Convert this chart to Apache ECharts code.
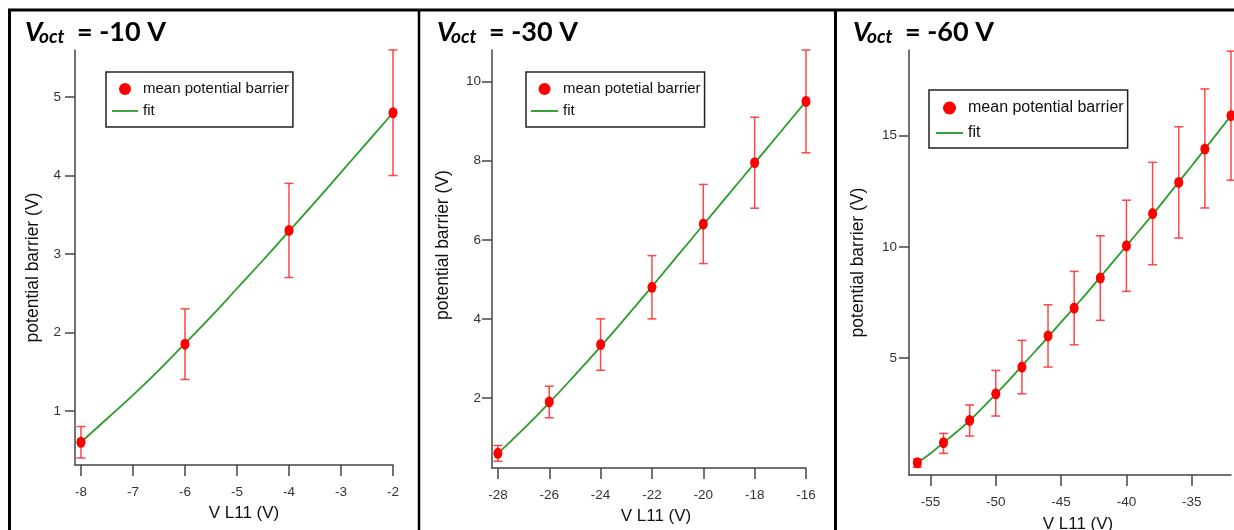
<!DOCTYPE html>
<html>
<head>
<meta charset="utf-8">
<script src="https://cdn.jsdelivr.net/npm/echarts@6/dist/echarts.min.js"></script>
<style>
  html, body { margin: 0; padding: 0; background: #fff; }
  #chart { width: 1234px; height: 530px; }
</style>
</head>
<body>
<div id="chart"></div>
<script>
// ---- Panel 1: V_oct = -10 V ----
const vL11_p1 = [-8, -6, -4, -2];
const barrier_p1 = [0.6, 1.85, 3.3, 4.8];
const barrierLow_p1 = [0.4, 1.4, 2.7, 4.0];
const barrierHigh_p1 = [0.8, 2.3, 3.9, 5.6];
const fitX_p1 = [-8, -7.5, -7, -6.5, -6, -5.5, -5, -4.5, -4, -3.5, -3, -2.5, -2];
const fitY_p1 = [0.6, 0.9, 1.2, 1.52, 1.86, 2.2, 2.56, 2.92, 3.29, 3.66, 4.04, 4.42, 4.8];
const xTicks_p1 = [-8, -7, -6, -5, -4, -3, -2];
const yTicks_p1 = [1, 2, 3, 4, 5];

// ---- Panel 2: V_oct = -30 V ----
const vL11_p2 = [-28, -26, -24, -22, -20, -18, -16];
const barrier_p2 = [0.6, 1.9, 3.35, 4.8, 6.4, 7.95, 9.5];
const barrierLow_p2 = [0.4, 1.5, 2.7, 4.0, 5.4, 6.8, 8.2];
const barrierHigh_p2 = [0.8, 2.3, 4.0, 5.6, 7.4, 9.1, 10.8];
const fitX_p2 = [-28, -27, -26, -25, -24, -23, -22, -21, -20, -19, -18, -17, -16];
const fitY_p2 = [0.6, 1.22, 1.88, 2.58, 3.3, 4.05, 4.82, 5.6, 6.38, 7.16, 7.94, 8.72, 9.5];
const xTicks_p2 = [-28, -26, -24, -22, -20, -18, -16];
const yTicks_p2 = [2, 4, 6, 8, 10];

// ---- Panel 3: V_oct = -60 V ----
const vL11_p3 = [-56, -54, -52, -50, -48, -46, -44, -42, -40, -38, -36, -34, -32];
const barrier_p3 = [0.3, 1.2, 2.2, 3.4, 4.6, 6.0, 7.25, 8.6, 10.05, 11.5, 12.9, 14.4, 15.9];
const barrierLow_p3 = [0.1, 0.72, 1.5, 2.4, 3.4, 4.6, 5.6, 6.7, 8.0, 9.2, 10.4, 11.75, 13.0];
const barrierHigh_p3 = [0.46, 1.62, 2.9, 4.45, 5.8, 7.4, 8.9, 10.5, 12.1, 13.8, 15.4, 17.1, 18.8];
const fitX_p3 = [-56, -55, -54, -53, -52, -51, -50, -49, -48, -47, -46, -45, -44, -43, -42, -41, -40, -39, -38, -37, -36, -35, -34, -33, -32];
const fitY_p3 = [0.3, 0.72, 1.2, 1.68, 2.2, 2.78, 3.38, 4.0, 4.65, 5.3, 5.95, 6.62, 7.28, 7.95, 8.65, 9.35, 10.05, 10.75, 11.45, 12.18, 12.92, 13.65, 14.4, 15.15, 15.9];
const xTicks_p3 = [-55, -50, -45, -40, -35];
const yTicks_p3 = [5, 10, 15];

const titles = ['-10', '-30', '-60'];
const pointNames = ['mean potential barrier', 'mean potetial barrier', 'mean potential barrier'];
const xTitle = 'V L11 (V)';
const yTitle = 'potential barrier (V)';

const FONT = '"Liberation Sans", Arial, Helvetica, sans-serif';
const TITLE_FONT = 'Lato, "Open Sans", "DejaVu Sans", sans-serif';
const AXIS_COLOR = '#444';
const POINT_COLOR = '#ff0000';
const ERR_COLOR = 'rgba(255, 45, 45, 0.88)';
const FIT_COLOR = '#2a9d2a';
// legend key for the fit: a plain horizontal stroke
const LINE_ICON = 'path://M0,0L26,0L26,1.8L0,1.8Z';

const zip2 = (a, b) => a.map((v, i) => [v, b[i]]);
const zip3 = (a, b, c) => a.map((v, i) => [v, b[i], c[i]]);

const panels = [
  {
    x: vL11_p1, y: barrier_p1, lo: barrierLow_p1, hi: barrierHigh_p1, fx: fitX_p1, fy: fitY_p1,
    xTicks: xTicks_p1, yTicks: yTicks_p1,
    grid: { left: 75, top: 50, width: 318, height: 415 },
    xRange: [-8.115, -2], yRange: [0.31, 5.6],
    yLabelMargin: 14, yNameGap: 33, yNamePad: [0, 20, 0, 0], xNameGap: 40, xNamePad: [0, 0, 0, 20],
    legend: { left: 106, top: 72, padding: [9.5, 4, 8.5, 6], itemWidth: 26, itemHeight: 12, itemGap: 7, itemTextGap: 7, fontSize: 15 },
    titleX: 25
  },
  {
    x: vL11_p2, y: barrier_p2, lo: barrierLow_p2, hi: barrierHigh_p2, fx: fitX_p2, fy: fitY_p2,
    xTicks: xTicks_p2, yTicks: yTicks_p2,
    grid: { left: 492, top: 50, width: 314, height: 418 },
    xRange: [-28.23, -16], yRange: [0.23, 10.8],
    yLabelMargin: 11, yNameGap: 40, yNamePad: [0, 0, 0, 28], xNameGap: 40, xNamePad: [0, 0, 0, 14],
    legend: { left: 526, top: 72, padding: [9.5, 4, 8.5, 5], itemWidth: 27, itemHeight: 12, itemGap: 7, itemTextGap: 6, fontSize: 15 },
    titleX: 437
  },
  {
    x: vL11_p3, y: barrier_p3, lo: barrierLow_p3, hi: barrierHigh_p3, fx: fitX_p3, fy: fitY_p3,
    xTicks: xTicks_p3, yTicks: yTicks_p3,
    grid: { left: 909, top: 50, width: 322, height: 425 },
    xRange: [-56.64, -32], yRange: [-0.25, 18.85],
    yLabelMargin: 12, yNameGap: 42, yNamePad: [0, 0, 0, 0], xNameGap: 41, xNamePad: [0, 0, 0, 16],
    legend: { left: 929, top: 90, padding: [10, 4, 7, 7], itemWidth: 27, itemHeight: 13, itemGap: 9, itemTextGap: 7, fontSize: 16 },
    titleX: 853
  }
];

// vertical error bar with caps, positioned through the axis scales
function renderErrorBar(params, api) {
  const xv = api.value(0);
  const top = api.coord([xv, api.value(2)]);
  const bot = api.coord([xv, api.value(1)]);
  const hw = 4.5;
  const style = { stroke: ERR_COLOR, lineWidth: 1.5, fill: null };
  return {
    type: 'group',
    children: [
      { type: 'line', shape: { x1: top[0], y1: top[1], x2: bot[0], y2: bot[1] }, style: style },
      { type: 'line', shape: { x1: top[0] - hw, y1: top[1], x2: top[0] + hw, y2: top[1] }, style: style },
      { type: 'line', shape: { x1: bot[0] - hw, y1: bot[1], x2: bot[0] + hw, y2: bot[1] }, style: style }
    ]
  };
}

const grids = [], xAxes = [], yAxes = [], series = [], legends = [], graphics = [];

panels.forEach((p, i) => {
  grids.push(Object.assign({ outerBoundsMode: 'none', containLabel: false }, p.grid));

  xAxes.push({
    gridIndex: i, type: 'value', min: p.xRange[0], max: p.xRange[1],
    axisLine: { show: true, onZero: false, lineStyle: { color: AXIS_COLOR, width: 1.5 } },
    axisTick: { show: true, length: 11, customValues: p.xTicks, lineStyle: { color: AXIS_COLOR, width: 1.5 } },
    axisLabel: { customValues: p.xTicks, margin: 20, fontSize: 13.5, color: '#333', fontFamily: FONT },
    splitLine: { show: false },
    name: xTitle, nameLocation: 'middle', nameGap: p.xNameGap, nameMoveOverlap: false,
    nameTextStyle: { fontSize: 17, color: '#111', fontFamily: FONT, padding: p.xNamePad, verticalAlign: 'top' }
  });

  yAxes.push({
    gridIndex: i, type: 'value', min: p.yRange[0], max: p.yRange[1],
    axisLine: { show: true, onZero: false, lineStyle: { color: AXIS_COLOR, width: 1.5 } },
    axisTick: { show: true, length: 10, customValues: p.yTicks, lineStyle: { color: AXIS_COLOR, width: 1.5 } },
    axisLabel: { customValues: p.yTicks, margin: p.yLabelMargin, fontSize: 13.5, color: '#333', fontFamily: FONT },
    splitLine: { show: false },
    name: yTitle, nameLocation: 'middle', nameRotate: 90, nameGap: p.yNameGap, nameMoveOverlap: false,
    nameTextStyle: { fontSize: 17.5, color: '#111', fontFamily: FONT, padding: p.yNamePad }
  });

  series.push({
    name: 'fit', type: 'line', xAxisIndex: i, yAxisIndex: i,
    data: zip2(p.fx, p.fy), symbol: 'none', smooth: true, z: 2,
    lineStyle: { color: FIT_COLOR, width: 1.8 }, itemStyle: { color: FIT_COLOR },
    animation: false
  });
  series.push({
    name: 'error ' + i, type: 'custom', xAxisIndex: i, yAxisIndex: i,
    data: zip3(p.x, p.lo, p.hi), renderItem: renderErrorBar, z: 3,
    encode: { x: 0, y: [1, 2] }, clip: false, animation: false
  });
  series.push({
    name: pointNames[i], type: 'scatter', xAxisIndex: i, yAxisIndex: i,
    data: zip2(p.x, p.y), symbol: 'circle', symbolSize: [9, 11], z: 4,
    itemStyle: { color: POINT_COLOR, opacity: 1 }, animation: false
  });

  const L = p.legend;
  legends.push({
    data: [
      { name: pointNames[i], icon: 'circle' },
      { name: 'fit', icon: LINE_ICON, itemStyle: { color: FIT_COLOR } }
    ],
    orient: 'vertical', left: L.left, top: L.top,
    padding: L.padding, itemWidth: L.itemWidth, itemHeight: L.itemHeight,
    itemGap: L.itemGap, itemTextGap: L.itemTextGap, symbolKeepAspect: true,
    borderColor: '#222', borderWidth: 1.5, borderRadius: 0, backgroundColor: '#fff',
    textStyle: { fontSize: L.fontSize, color: '#111', fontFamily: FONT },
    selectedMode: false
  });

  // panel heading: V_oct = ... V
  graphics.push({
    type: 'text', x: p.titleX, y: 32.5, z: 10,
    style: { text: 'V', fontSize: 27, fontWeight: 'bold', fontStyle: 'italic', fontFamily: TITLE_FONT, fill: '#000', verticalAlign: 'middle' }
  });
  graphics.push({
    type: 'text', x: p.titleX + 14, y: 37, z: 10,
    style: { text: 'oct', fontSize: 19, fontWeight: 'bold', fontStyle: 'italic', fontFamily: TITLE_FONT, fill: '#000', verticalAlign: 'middle' }
  });
  graphics.push({
    type: 'text', x: p.titleX + 52, y: 32.5, z: 10,
    style: { text: '= ' + titles[i] + ' V', fontSize: 27, fontWeight: 'bold', fontFamily: TITLE_FONT, fill: '#000', verticalAlign: 'middle' }
  });
});

// outer frame and panel separators
const frame = [
  { x1: 8, y1: 10, x2: 1234, y2: 10, w: 3 },
  { x1: 9.5, y1: 10, x2: 9.5, y2: 530, w: 3 },
  { x1: 419, y1: 10, x2: 419, y2: 530, w: 2.5 },
  { x1: 835.5, y1: 10, x2: 835.5, y2: 530, w: 3 }
];
frame.forEach(f => graphics.push({
  type: 'line', z: 10, shape: { x1: f.x1, y1: f.y1, x2: f.x2, y2: f.y2 },
  style: { stroke: '#000', lineWidth: f.w }
}));

const chart = echarts.init(document.getElementById('chart'), null, { renderer: 'canvas' });
chart.setOption({
  animation: false,
  backgroundColor: '#fff',
  grid: grids,
  xAxis: xAxes,
  yAxis: yAxes,
  legend: legends,
  series: series,
  graphic: graphics
});
</script>
</body>
</html>
